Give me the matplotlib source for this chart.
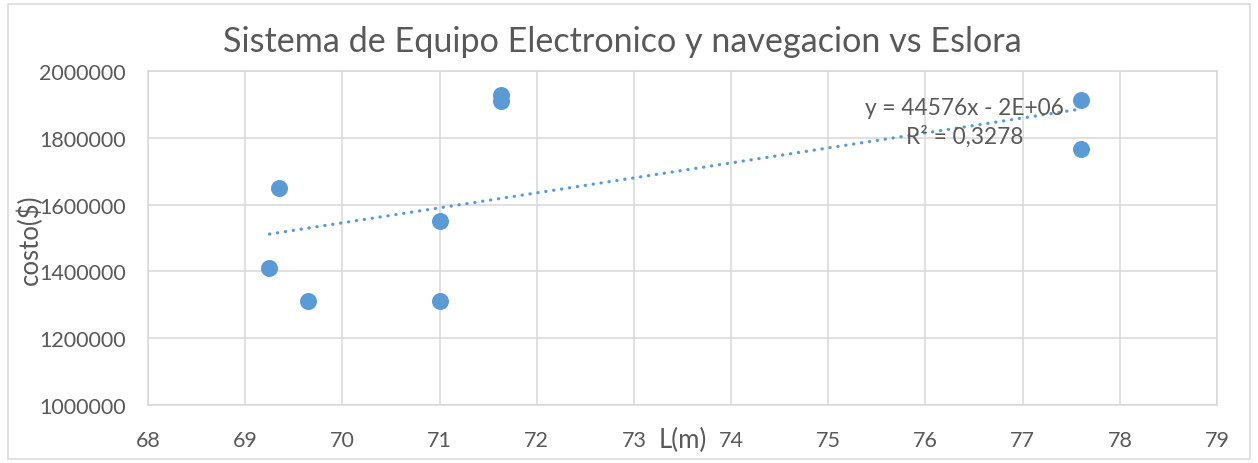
import matplotlib
matplotlib.use("Agg")
import matplotlib.pyplot as plt
from matplotlib.patches import Rectangle
import numpy as np

# ── Data ──────────────────────────────────────────────────────────────────────
eslora = [69.25, 69.35, 69.65, 71.0, 71.0, 71.63, 71.63, 77.6, 77.6]
costo = [1410000, 1650000, 1312000, 1550000, 1312000, 1927000, 1910000, 1912000, 1765000]

x_ticks = [68, 69, 70, 71, 72, 73, 74, 75, 76, 77, 78, 79]
y_ticks = [1000000, 1200000, 1400000, 1600000, 1800000, 2000000]

title = "Sistema de Equipo Electronico y navegacion vs Eslora"
eq_text = "y = 44576x - 2E+06"
r2_text = "R² = 0,3278"

# ── Style ─────────────────────────────────────────────────────────────────────
_BLUE = "#5b9bd5"
_GRID = "#d9d9d9"
_TEXT = "#595959"
plt.rcParams["font.family"] = ["Lato", "DejaVu Sans"]

fig = plt.figure(figsize=(12.58, 4.64), dpi=100)
ax = fig.add_axes([148 / 1258, 1 - 406 / 464, (1217 - 148) / 1258, (406 - 72) / 464])

ax.scatter(eslora, costo, s=150, color=_BLUE, zorder=3, linewidths=0)

# linear trendline
slope, intercept = np.polyfit(eslora, costo, 1)
xs = np.array([min(eslora), max(eslora)])
ax.plot(xs, slope * xs + intercept, color=_BLUE, linewidth=2.3,
        linestyle=(0, (0.1, 2.4)), dash_capstyle="round", zorder=2)

ax.set_xlim(68, 79)
ax.set_ylim(1000000, 2000000)
ax.set_xticks(x_ticks)
ax.set_yticks(y_ticks)
ax.set_xticklabels([str(t) for t in x_ticks])
ax.set_yticklabels([str(t) for t in y_ticks])
ax.tick_params(length=0, labelsize=15.5, colors=_TEXT)
ax.tick_params(axis="y", pad=16)
ax.tick_params(axis="x", pad=18)
ax.grid(True, color=_GRID, linewidth=1.1)
ax.set_axisbelow(True)
for sp in ax.spines.values():
    sp.set_color(_GRID)
    sp.set_linewidth(1.1)

ax.text(0.764, 0.892, eq_text, transform=ax.transAxes, ha="center", va="center",
        fontsize=16.3, color=_TEXT, zorder=4)
ax.text(0.764, 0.805, r2_text, transform=ax.transAxes, ha="center", va="center",
        fontsize=16.3, color=_TEXT, zorder=4)

fig.text(622 / 1258, 1 - 42 / 464, title, ha="center", va="center",
         fontsize=24.6, color=_TEXT)
fig.text(683 / 1258, 1 - 440 / 464, "L(m)", ha="center", va="center",
         fontsize=18.5, color=_TEXT)
fig.text(30 / 1258, 1 - 240 / 464, "costo($)", ha="center", va="center",
         rotation=90, fontsize=18.5, color=_TEXT)

# chart area border
fig.patches.append(Rectangle((8 / 1258, 4 / 464), 1242 / 1258, 455 / 464,
                             transform=fig.transFigure, fill=False,
                             edgecolor=_GRID, linewidth=1.1))

fig.savefig("out.png", dpi=100, facecolor="white")
